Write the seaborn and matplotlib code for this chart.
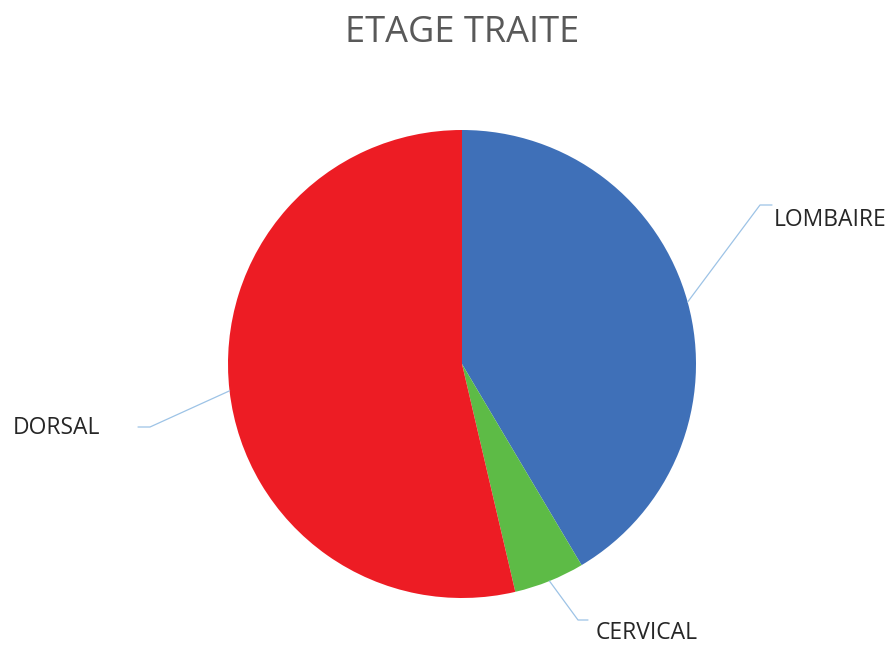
import numpy as np
import matplotlib
matplotlib.use("Agg")
import matplotlib.pyplot as plt
import seaborn as sns

# data
etages = ["LOMBAIRE", "CERVICAL", "DORSAL"]
effectifs = [17, 2, 22]
couleurs = ["#3F70B8", "#5DBB46", "#ED1C24"]

sns.set_theme(style="white")
plt.rcParams['font.family'] = ['Open Sans', 'DejaVu Sans']

fig = plt.figure(figsize=(8.96, 6.45), dpi=100)
ax = fig.add_axes([0, 0, 1, 1])

centre = (462, 281)
rayon = 234
wedges, _ = ax.pie(effectifs, colors=couleurs, startangle=90, counterclock=False,
                   center=centre, radius=rayon, frame=True,
                   wedgeprops=dict(linewidth=0))
ax.set_xlim(0, 896)
ax.set_ylim(0, 645)
ax.set_aspect('equal')
ax.axis('off')

# leader lines + labels
positions = {
    "LOMBAIRE": dict(coude=(760, 440), fin=(772, 440), texte=(774, 425), ha='left'),
    "CERVICAL": dict(coude=(578, 25), fin=(588, 25), texte=(596, 12), ha='left'),
    "DORSAL": dict(coude=(150, 218), fin=(138, 218), texte=(100, 217), ha='right'),
}
for w, nom in zip(wedges, etages):
    ang = np.deg2rad((w.theta1 + w.theta2) / 2)
    x0 = centre[0] + rayon * np.cos(ang)
    y0 = centre[1] + rayon * np.sin(ang)
    p = positions[nom]
    ax.plot([x0, p['coude'][0], p['fin'][0]], [y0, p['coude'][1], p['fin'][1]],
            color="#9DC3E6", lw=0.9)
    ax.text(p['texte'][0], p['texte'][1], nom, ha=p['ha'], va='center',
            fontsize=16.5, color="#262626")

ax.text(462, 612, "ETAGE TRAITE", ha='center', va='center', fontsize=26, color="#595959")

fig.savefig("out.png", dpi=100)
